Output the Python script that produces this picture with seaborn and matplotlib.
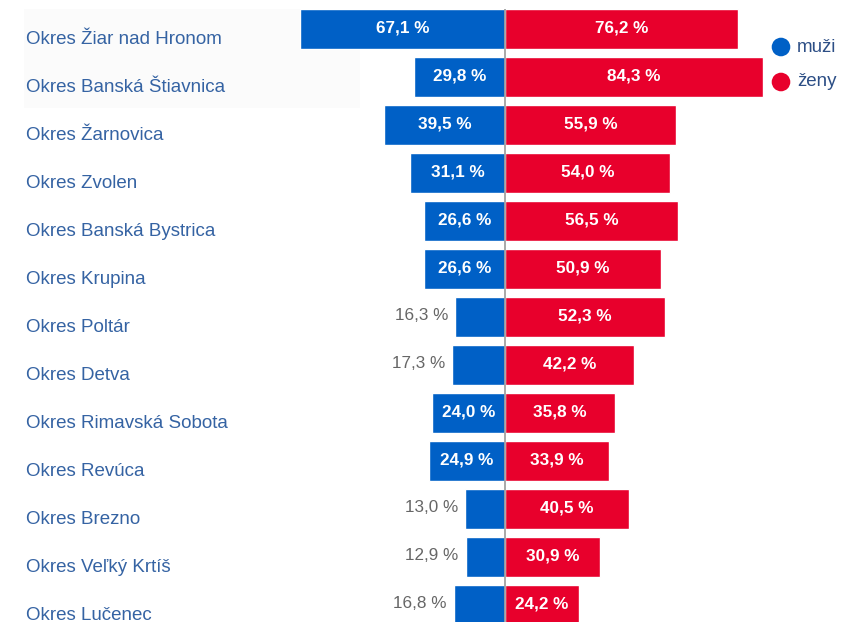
import matplotlib
matplotlib.use("Agg")
import matplotlib.pyplot as plt
import matplotlib.transforms as mtransforms
from matplotlib.patches import Rectangle, Circle
import seaborn as sns
import pandas as pd

sns.set_theme(style="white")
plt.rcParams["font.family"] = ["Liberation Sans", "DejaVu Sans"]

okresy = [
    "Okres Žiar nad Hronom",
    "Okres Banská Štiavnica",
    "Okres Žarnovica",
    "Okres Zvolen",
    "Okres Banská Bystrica",
    "Okres Krupina",
    "Okres Poltár",
    "Okres Detva",
    "Okres Rimavská Sobota",
    "Okres Revúca",
    "Okres Brezno",
    "Okres Veľký Krtíš",
    "Okres Lučenec",
]
muzi = [67.1, 29.8, 39.5, 31.1, 26.6, 26.6, 16.3, 17.3, 24.0, 24.9, 13.0, 12.9, 16.8]
zeny = [76.2, 84.3, 55.9, 54.0, 56.5, 50.9, 52.3, 42.2, 35.8, 33.9, 40.5, 30.9, 24.2]
legend_labels = ["muži", "ženy"]

BLUE = "#0060c6"
RED = "#e8002c"
BG = "#f4f4f4"
LABEL = "#3563a3"

df = pd.DataFrame({"okres": okresy, "muzi": [-v for v in muzi], "zeny": zeny})

W, H = 843, 622
fig = plt.figure(figsize=(W / 100, H / 100), dpi=100, facecolor="white")
ax = fig.add_axes([24 / W, 0, (W - 24) / W, (H - 9) / H])
ax.set_facecolor(BG)

sns.barplot(data=df, x="muzi", y="okres", orient="h", color=BLUE, width=0.83,
            edgecolor="white", linewidth=1, saturation=1, ax=ax, zorder=2)
sns.barplot(data=df, x="zeny", y="okres", orient="h", color=RED, width=0.83,
            edgecolor="white", linewidth=1, saturation=1, ax=ax, zorder=2)

px = 3.06  # pixels per percentage point
ax.set_xlim(-(505 - 24) / px, (W - 505) / px)
ax.set_ylim((H - 29) / 48, -20 / 48)
ax.axis("off")

# lighter panel behind the first two labels
ax.add_patch(Rectangle((0, 1 - 99 / (H - 9)), (360 - 24) / (W - 24), 99 / (H - 9),
                       transform=ax.transAxes, facecolor="#fbfbfb",
                       edgecolor="none", zorder=0.5))

# center axis line
ax.axvline(0, color="#9a9a9a", lw=1.2, zorder=3)

blend = mtransforms.blended_transform_factory(ax.transAxes, ax.transData)
for i, name in enumerate(okresy):
    ax.text(2 / (W - 24), i + 0.22, name, transform=blend, ha="left", va="center",
            fontsize=13.5, color=LABEL, zorder=4)

def fmt(v):
    return f"{v:.1f}".replace(".", ",") + " %"

off = mtransforms.offset_copy(ax.transData, fig=fig, x=-7, y=0, units="dots")
for i, (m, z) in enumerate(zip(muzi, zeny)):
    if m >= 20:
        ax.text(-m / 2, i - 0.03, fmt(m), ha="center", va="center", fontsize=12.3,
                fontweight="bold", color="white", zorder=4)
    else:
        ax.text(-m, i - 0.03, fmt(m), ha="right", va="center", fontsize=12.3,
                color="#666666", transform=off, zorder=4)
    ax.text(z / 2, i - 0.03, fmt(z), ha="center", va="center", fontsize=12.3,
            fontweight="bold", color="white", zorder=4)

# legend (positions in inches so the markers stay round)
for k, (lab, col) in enumerate(zip(legend_labels, [BLUE, RED])):
    yc_px = 47 + 35 * k
    fig.add_artist(Circle((781 / 100, (H - yc_px) / 100), 0.093,
                          transform=fig.dpi_scale_trans, facecolor=col,
                          edgecolor="none"))
    fig.text(797 / W, 1 - yc_px / H, lab, ha="left", va="center", fontsize=13.5,
             color="#2d4f86")

fig.savefig("out.png", dpi=100, facecolor="white")
